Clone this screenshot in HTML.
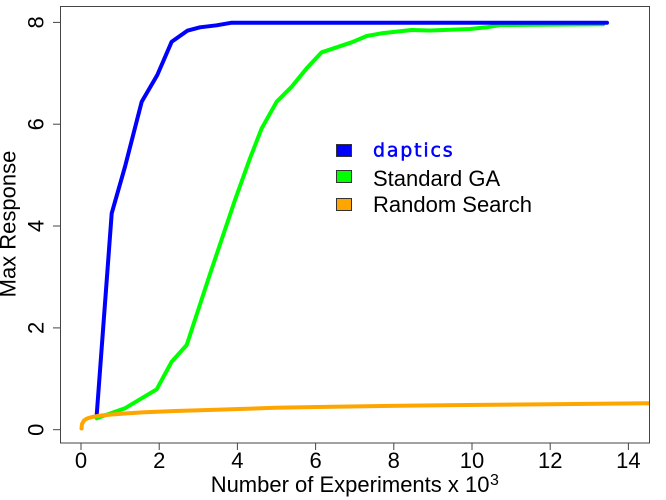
<!DOCTYPE html>
<html>
<head>
<meta charset="utf-8">
<style>
  html, body { margin: 0; padding: 0; background: #fff; }
  svg { display: block; }
  text { font-family: "Liberation Sans", Arial, sans-serif; fill: #000; }
</style>
</head>
<body>
<svg width="666" height="500" viewBox="0 0 666 500" xmlns="http://www.w3.org/2000/svg">
  <defs>
    <clipPath id="pc"><rect x="61" y="7" width="588.5" height="435.5"/></clipPath>
  </defs>
  <rect x="0" y="0" width="666" height="500" fill="#fff"/>

  <!-- series -->
  <g fill="none" stroke-width="4" stroke-linejoin="round" stroke-linecap="round" clip-path="url(#pc)">
    <polyline stroke="#00FF00" points="96.7,418.3 125,408.3 156.7,389.3 171.7,361.7 186.7,345 210,274 235,200 250,158.3 261.7,128.3 276.7,101.7 291.7,86.7 306.7,68.3 321.7,52.3 351.7,42.3 366.7,36 381.7,33.3 411.7,30 430,30.5 470,29 486.7,27.3 500,25 603,24.3"/>
    <polyline stroke="#0000FF" points="96.7,415 111.7,213.3 125,166.7 141.7,101.7 157.3,75 171.7,41.7 187.3,30.7 200,27.3 216.7,25.3 231.7,22.7 607,22.7"/>
    <polyline stroke="#FFA500" points="81.5,428.5 82,424 84,420.5 87,418.5 92,417 100,415.6 110,414.6 125,413.5 142,412.4 175,411 208,410 275,407.8 333,406.7 400,405.8 466,405 550,404.2 660,403.2"/>
  </g>

  <!-- plot box -->
  <rect x="60.5" y="6.5" width="589" height="436.5" fill="none" stroke="#444" stroke-width="1"/>

  <!-- y ticks -->
  <g stroke="#444" stroke-width="1">
    <line x1="53" y1="429.7" x2="60.5" y2="429.7"/>
    <line x1="53" y1="327.9" x2="60.5" y2="327.9"/>
    <line x1="53" y1="226.0" x2="60.5" y2="226.0"/>
    <line x1="53" y1="124.2" x2="60.5" y2="124.2"/>
    <line x1="53" y1="22.4" x2="60.5" y2="22.4"/>
  </g>
  <g font-size="22" text-anchor="middle">
    <text transform="translate(43.5,429.7) rotate(-90)">0</text>
    <text transform="translate(43.5,327.9) rotate(-90)">2</text>
    <text transform="translate(43.5,226.0) rotate(-90)">4</text>
    <text transform="translate(43.5,124.2) rotate(-90)">6</text>
    <text transform="translate(43.5,22.4) rotate(-90)">8</text>
  </g>

  <!-- x ticks -->
  <g stroke="#444" stroke-width="1">
    <line x1="81" y1="443" x2="81" y2="450"/>
    <line x1="159.2" y1="443" x2="159.2" y2="450"/>
    <line x1="237.4" y1="443" x2="237.4" y2="450"/>
    <line x1="315.6" y1="443" x2="315.6" y2="450"/>
    <line x1="393.8" y1="443" x2="393.8" y2="450"/>
    <line x1="472" y1="443" x2="472" y2="450"/>
    <line x1="550.2" y1="443" x2="550.2" y2="450"/>
    <line x1="628.4" y1="443" x2="628.4" y2="450"/>
  </g>
  <g font-size="22" text-anchor="middle">
    <text x="81" y="468">0</text>
    <text x="159.2" y="468">2</text>
    <text x="237.4" y="468">4</text>
    <text x="315.6" y="468">6</text>
    <text x="393.8" y="468">8</text>
    <text x="472" y="468">10</text>
    <text x="550.2" y="468">12</text>
    <text x="628.4" y="468">14</text>
  </g>

  <!-- axis labels -->
  <text x="210.7" y="492" font-size="22">Number of Experiments x 10</text>
  <text x="490" y="485" font-size="16">3</text>
  <text transform="translate(15.5,224) rotate(-90)" font-size="22" text-anchor="middle">Max Response</text>

  <!-- legend -->
  <g stroke="#333" stroke-width="1">
    <rect x="336.5" y="144.5" width="15" height="12" fill="#0000FF"/>
    <rect x="336.5" y="170.5" width="15" height="12" fill="#00FF00"/>
    <rect x="336.5" y="198.5" width="15" height="12" fill="#FFA500"/>
  </g>
  <text x="373" y="156.5" font-size="19" letter-spacing="1.8" stroke="#0000FF" stroke-width="0.5" style="font-family:'DejaVu Sans', sans-serif; fill:#0000FF;">daptics</text>
  <text x="373" y="186" font-size="22">Standard GA</text>
  <text x="373" y="212" font-size="22">Random Search</text>
</svg>
</body>
</html>
